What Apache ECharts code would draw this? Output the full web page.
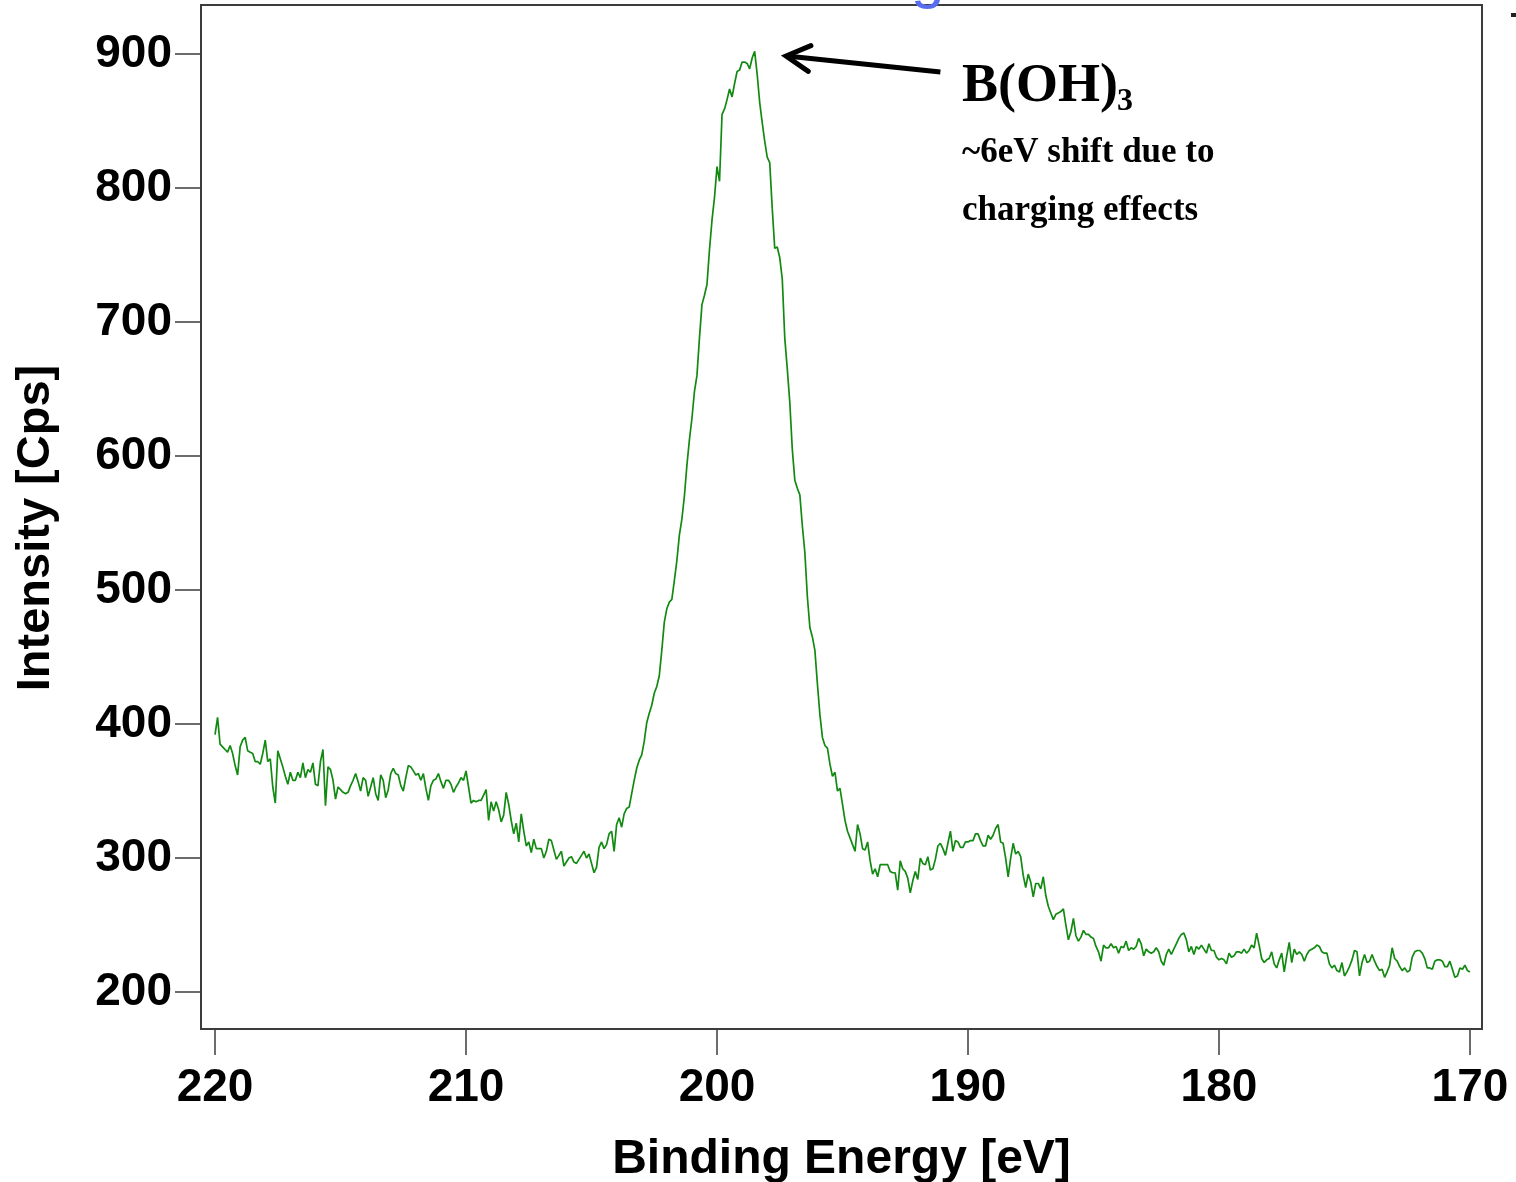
<!DOCTYPE html>
<html>
<head>
<meta charset="utf-8">
<script src="https://cdn.jsdelivr.net/npm/echarts@6/dist/echarts.min.js"></script>
<style>
html, body { margin: 0; padding: 0; background: #fff; }
#main { width: 1516px; height: 1182px; }
</style>
</head>
<body>
<div id="main"></div>
<script>
// channel grid of the spectrum (eV)
var eStart = 220.0;
var eStep = 0.1;

// counts per channel, 220.0 eV downwards
var intensity = [
  392,405,385,383,381,379,384,378,369,362,
  383,388,390,380,379,378,372,372,370,378,
  388,372,374,353,341,380,374,368,361,355,
  364,358,358,364,360,371,360,366,364,371,
  355,354,372,381,339,368,366,358,344,353,
  351,349,348,349,354,358,363,357,350,360,
  358,346,353,360,348,343,362,358,345,351,
  363,367,363,362,354,350,360,369,368,365,
  362,363,358,363,352,343,354,358,359,363,
  357,352,358,358,355,349,353,356,360,358,
  365,353,341,343,342,343,343,347,351,328,
  342,335,342,336,327,332,349,340,328,318,
  326,312,333,320,309,312,304,314,307,307,
  307,300,305,314,313,306,299,302,305,294,
  297,300,301,297,296,299,302,305,300,303,
  296,289,293,308,312,307,310,318,320,305,
  325,330,323,333,337,338,348,358,367,373,
  377,387,401,408,414,423,428,436,455,476,
  486,491,493,507,522,541,553,570,593,612,
  628,648,660,688,713,720,728,754,776,793,
  816,805,855,859,866,874,868,878,887,888,
  894,894,893,889,897,902,885,864,849,835,
  823,819,785,755,756,748,732,688,665,640,
  605,582,576,571,548,528,495,472,465,455,
  430,407,390,384,382,370,361,364,350,352,
  340,328,320,315,310,305,325,318,307,306,
  312,298,288,292,286,295,295,295,295,290,
  289,289,276,298,292,290,285,274,283,290,
  284,300,296,295,301,291,292,299,309,311,
  307,302,311,320,305,313,312,308,308,312,
  312,313,313,318,318,313,309,309,317,314,
  317,322,325,312,311,300,286,300,311,303,
  305,301,287,278,288,282,271,281,281,277,
  286,272,264,259,254,258,259,260,262,250,
  239,245,255,242,238,241,246,243,243,241,
  240,234,230,223,235,233,233,236,233,234,
  229,234,233,238,231,233,232,234,240,236,
  227,232,230,229,230,233,230,223,220,228,
  232,228,232,236,240,243,244,239,230,234,
  228,234,232,235,232,229,236,231,231,226,
  224,225,224,221,229,226,227,230,230,229,
  232,229,231,235,233,244,235,225,222,224,
  225,230,221,218,224,229,215,227,237,222,
  232,228,230,228,223,228,231,232,233,235,
  234,230,229,229,221,218,220,216,215,222,
  212,215,219,224,231,230,212,222,228,222,
  223,228,223,219,216,217,211,215,220,233,
  225,223,219,216,218,215,216,226,230,231,
  231,229,225,218,218,217,223,224,224,223,
  219,219,223,217,211,212,218,217,220,216,
  215
];

var xTicks = [170, 180, 190, 200, 210, 220];
var yTicks = [200, 300, 400, 500, 600, 700, 800, 900];

// annotation: arrow from the label to the peak (data coords)
var arrowTip = [197.25, 898.5];
var arrowTail = [191.1, 886.6];

var axisColor = '#3c3c3c';

var points = intensity.map(function (v, i) {
	return [+(eStart - i * eStep).toFixed(1), v];
});

var myChart = echarts.init(document.getElementById('main'));
var option = {
	animation: false,
	backgroundColor: '#fff',
	grid: {
		left: 201, right: 34, top: 5, bottom: 153,
		outerBoundsMode: 'none',
		containLabel: false,
		show: true, borderColor: axisColor, borderWidth: 2
	},
	xAxis: {
		type: 'value',
		inverse: true,
		min: 169.52,
		max: 220.56,
		name: 'Binding Energy [eV]',
		nameLocation: 'middle',
		nameGap: 107,
		nameTextStyle: { fontFamily: '"Liberation Sans", Arial', fontWeight: 'bold', fontSize: 48, color: '#000' },
		axisLine: { show: true, onZero: false, lineStyle: { color: axisColor, width: 2 } },
		axisTick: { show: true, length: 26, customValues: xTicks, lineStyle: { color: axisColor, width: 1.5 } },
		axisLabel: { customValues: xTicks, margin: 36, fontFamily: '"Liberation Sans", Arial', fontWeight: 'bold', fontSize: 46, color: '#000' },
		splitLine: { show: false }
	},
	yAxis: {
		type: 'value',
		min: 172.4,
		max: 936.6,
		name: 'Intensity [Cps]',
		nameLocation: 'middle',
		nameGap: 141,
		nameTextStyle: { fontFamily: '"Liberation Sans", Arial', fontWeight: 'bold', fontSize: 47, color: '#000',
			padding: [0, 22, 0, 0] },
		axisLine: { show: true, lineStyle: { color: axisColor, width: 2 } },
		axisTick: { show: true, length: 26, customValues: yTicks, lineStyle: { color: axisColor, width: 1.5 } },
		axisLabel: { customValues: yTicks, margin: 29, fontFamily: '"Liberation Sans", Arial', fontWeight: 'bold', fontSize: 46, color: '#000' },
		splitLine: { show: false }
	},
	series: [{
		type: 'line',
		data: points,
		symbol: 'none',
		clip: true,
		lineStyle: { color: '#128a12', width: 1.7 }
	}]
};
myChart.setOption(option);

// arrow + texts
var tip = myChart.convertToPixel({ gridIndex: 0 }, arrowTip);
var tail = myChart.convertToPixel({ gridIndex: 0 }, arrowTail);
var dx = tail[0] - tip[0], dy = tail[1] - tip[1];
var len = Math.sqrt(dx * dx + dy * dy);
dx /= len; dy /= len;
function wing(a) {
	var c = Math.cos(a), s = Math.sin(a), L = 27;
	return [tip[0] + L * (dx * c - dy * s), tip[1] + L * (dx * s + dy * c)];
}
var serif = '"Liberation Serif", "Times New Roman", serif';
myChart.setOption({
	graphic: [
		{ type: 'line', shape: { x1: tail[0], y1: tail[1], x2: tip[0] + dx * 3, y2: tip[1] + dy * 3 },
			style: { stroke: '#000', lineWidth: 5 } },
		{ type: 'polyline', shape: { points: [wing(0.5), tip, wing(-0.5)] },
			style: { stroke: '#000', lineWidth: 5, fill: null, lineJoin: 'miter', lineCap: 'round' } },
		{ type: 'text', x: 962, y: 60, style: { text: 'B(OH)', fill: '#000',
			font: 'bold 54px ' + serif } },
		{ type: 'text', x: 1117, y: 86, style: { text: '3', fill: '#000',
			font: 'bold 32px ' + serif } },
		{ type: 'text', x: 962, y: 135, style: { text: '~6eV shift due to', fill: '#000',
			font: 'bold 35px ' + serif } },
		{ type: 'text', x: 962, y: 193, style: { text: 'charging effects', fill: '#000',
			font: 'bold 35px ' + serif } },
		{ type: 'text', x: 911, y: -50, style: { text: 'g', fill: '#5a6cf0',
			font: '60px "Liberation Sans", Arial, sans-serif' } },
		{ type: 'rect', shape: { x: 1511, y: 13, width: 5, height: 4 }, style: { fill: '#222' } }
	]
});
</script>
</body>
</html>
